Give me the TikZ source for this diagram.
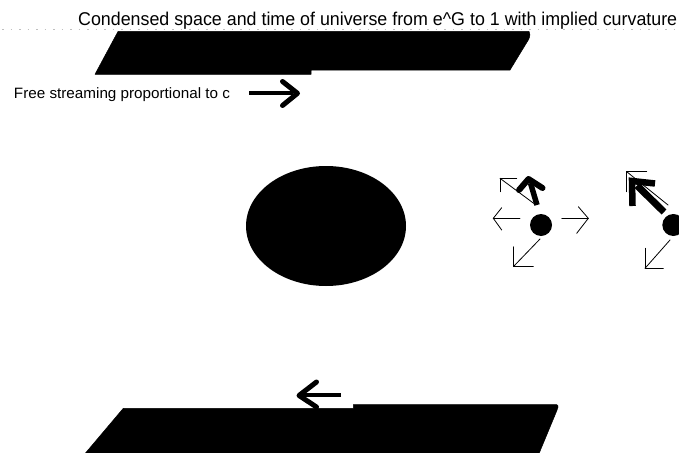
\documentclass[tikz,border=0pt]{standalone}
\usepackage{fontspec}
\setmainfont{Liberation Sans}
\usepackage{graphicx}
\usetikzlibrary{shapes.geometric}
\tikzset{
  slab/.style={fill=black, draw=black, line width=0.5pt, line join=round},
  thin arrow/.style={draw=black, line width=0.8pt, line cap=round, line join=miter},
  thick shaft/.style={draw=black, line width=4pt, line cap=butt},
  thick head/.style={draw=black, line width=5pt, line cap=round, line join=round},
  blob/.style={fill=black},
  label/.style={inner sep=0pt, anchor=base west},
  guide/.style={draw=black!25, line width=0.6pt, dash pattern=on 1.5pt off 7pt}
}
\begin{document}
\begin{tikzpicture}[x=1pt,y=-1pt]
\useasboundingbox (0,0) rectangle (679,452);
\clip (0,0) rectangle (679,452);
\fill[white] (0,0) rectangle (679,452);

% title and faint guide line
\node[label] (title) at (78,25.3) {\resizebox{599pt}{\height}{\fontsize{18.5}{20}\selectfont Condensed space and time of universe from e\^{}G to 1 with implied curvature}};
\draw[guide] (2,29.5) -- (679,29.5);

% top slab
\path[slab] (118,31.5) -- (529,31.5) [rounded corners=1.5pt] -- (530,33) -- (529.5,38) [sharp corners] -- (510,70) -- (311,70) -- (311,74.3) -- (95,74.3) -- cycle;

% free streaming label + arrow
\node[label] (free) at (13.8,98.5) {\resizebox{216pt}{\height}{\fontsize{15}{17}\selectfont Free streaming proportional to c}};
\coordinate (fa) at (249,93.3);
\coordinate (fb) at (293,93.3);
\coordinate (fh1) at (282.5,81.5);
\coordinate (ft) at (297.5,93.3);
\coordinate (fh2) at (282.5,105.5);
\draw[thick shaft] (fa) -- (fb);
\draw[thick head] (fh1) -- (ft) -- (fh2);

% central mass
\node[blob, ellipse, minimum width=160pt, minimum height=120pt, inner sep=0pt] (mass) at (326,226) {};

% particle group 1
\node[blob, circle, minimum size=22pt, inner sep=0pt] (p1) at (541,225) {};
\coordinate (l1a) at (520,218.3); \coordinate (l1t) at (493.3,218.3);
\draw[thin arrow] (l1a) -- (l1t);
\draw[thin arrow] (501.7,207.7) -- (l1t) -- (501.7,230);
\coordinate (r1a) at (561.7,218.3); \coordinate (r1t) at (588.3,218.3);
\draw[thin arrow] (r1a) -- (r1t);
\draw[thin arrow] (578.3,206.7) -- (r1t) -- (576.7,233.3);
\coordinate (d1a) at (540,239); \coordinate (d1t) at (513.3,266.7);
\draw[thin arrow] (d1a) -- (d1t);
\draw[thin arrow] (533.3,266.7) -- (d1t) -- (513.3,246.7);
\coordinate (u1a) at (535,204.3); \coordinate (u1t) at (500,178.3);
\draw[thin arrow] (u1a) -- (u1t);
\draw[thin arrow] (516.7,178.3) -- (u1t) -- (500,191.7);
\coordinate (k1a) at (537,205); \coordinate (k1b) at (530.5,183);
\draw[draw=black, line width=5.5pt] (k1a) -- (k1b);
\draw[draw=black, line width=6pt, line cap=round, line join=round] (519,190) -- (528.5,179) -- (542.5,188);

% particle group 2
\node[blob, circle, minimum size=22pt, inner sep=0pt] (p2) at (673.3,225) {};
\coordinate (k2a) at (664,212); \coordinate (k2b) at (637,185.5);
\draw[draw=black, line width=7pt] (k2a) -- (k2b);
\draw[draw=black, line width=6.5pt, line join=miter] (632.5,206) -- (632,181) -- (655,183.5);
\coordinate (u2a) at (668,205); \coordinate (u2t) at (626.7,171.7);
\draw[thin arrow] (u2a) -- (u2t);
\draw[thin arrow] (646.7,171.7) -- (u2t) -- (626.7,191.7);
\coordinate (d2a) at (670,240); \coordinate (d2t) at (645,268.3);
\draw[thin arrow] (d2a) -- (d2t);
\draw[thin arrow] (663.3,268.3) -- (d2t) -- (645,248.3);

% bottom slab
\path[slab] (123.3,408.3) -- (353.3,408.3) -- (353.3,404.5) -- (556,404.5) [rounded corners=2pt] -- (558.5,405) -- (557.5,409) [sharp corners] -- (538,456) -- (83,456) -- cycle;

% backward arrow above bottom slab
\coordinate (ba) at (341,395);
\coordinate (bb) at (303,395);
\draw[thick shaft] (ba) -- (bb);
\draw[thick head] (316.5,382) -- (299,395.5) -- (316.5,407);
\end{tikzpicture}
\end{document}
